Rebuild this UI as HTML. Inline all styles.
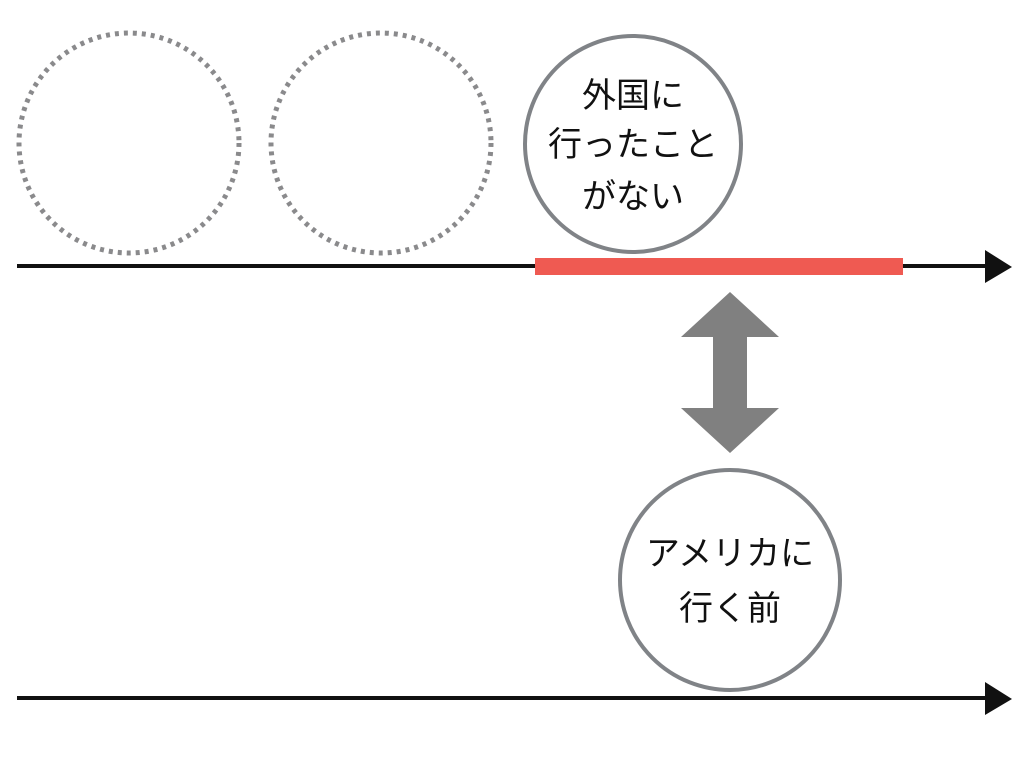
<!DOCTYPE html>
<html><head><meta charset="utf-8"><style>
html,body{margin:0;padding:0;background:#fff;}
svg{display:block}
text{font-family:"Liberation Sans","Noto Sans CJK JP",sans-serif;font-size:34px;fill:#111;text-anchor:middle}
</style></head><body>
<svg width="1024" height="768" viewBox="0 0 1024 768">
<circle cx="129" cy="143" r="110" fill="none" stroke="#8a8a8c" stroke-width="5" stroke-dasharray="4 5"/>
<circle cx="381" cy="143" r="110" fill="none" stroke="#8a8a8c" stroke-width="5" stroke-dasharray="4 5"/>
<circle cx="633" cy="144" r="108" fill="#fff" stroke="#808387" stroke-width="4"/>
<text x="633" y="107">外国に</text>
<text x="633" y="156">行ったこと</text>
<text x="633" y="208">がない</text>
<line x1="17" y1="266" x2="990" y2="266" stroke="#111" stroke-width="4"/>
<polygon points="985,250 1012,267 985,283" fill="#111"/>
<rect x="535" y="258" width="368" height="17" fill="#ef5a52"/>
<polygon points="730,292 779,337 747,337 747,408 779,408 730,453 681,408 713,408 713,337 681,337" fill="#808080"/>
<circle cx="730" cy="580" r="110" fill="#fff" stroke="#808387" stroke-width="4"/>
<text x="730" y="565">アメリカに</text>
<text x="730" y="620">行く前</text>
<line x1="17" y1="698" x2="990" y2="698" stroke="#111" stroke-width="4"/>
<polygon points="985,682 1012,699 985,715" fill="#111"/>
</svg>
</body></html>
